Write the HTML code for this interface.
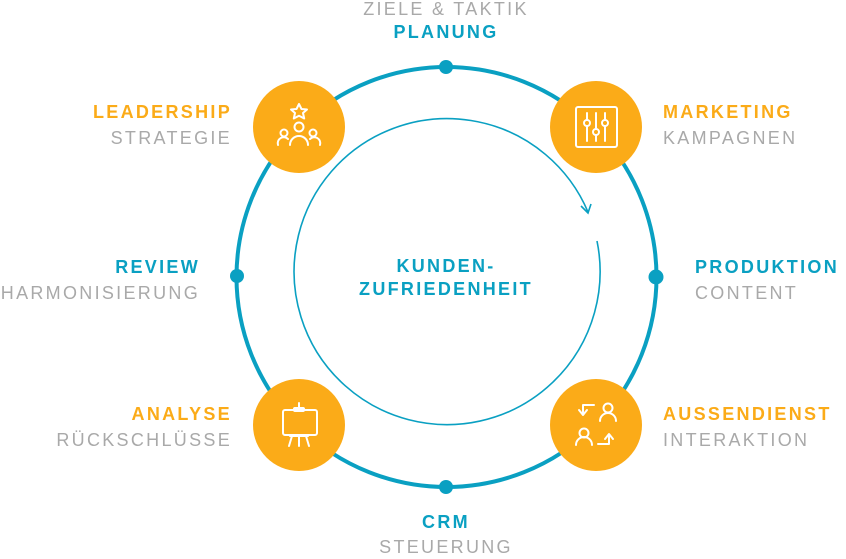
<!DOCTYPE html>
<html><head><meta charset="utf-8"><style>
body{margin:0;width:846px;height:554px;background:#fff;overflow:hidden;font-family:"Liberation Sans",sans-serif}
</style></head><body>
<svg width="846" height="554" viewBox="0 0 846 554" xmlns="http://www.w3.org/2000/svg" font-family="Liberation Sans, sans-serif" font-size="18" letter-spacing="2.3">
<circle cx="446.5" cy="277" r="210" fill="none" stroke="#0aa0c2" stroke-width="4"/>
<path d="M597 241 A153 153 0 1 1 588 212" fill="none" stroke="#0aa0c2" stroke-width="1.6"/>
<path d="M581 206 L588 213 L591 204" fill="none" stroke="#0aa0c2" stroke-width="1.6"/>
<g fill="#0aa0c2"><circle cx="446" cy="67" r="7"/><circle cx="656" cy="277" r="7.5"/><circle cx="237" cy="276" r="7"/><circle cx="446" cy="487" r="7"/></g>
<g fill="#fbab18"><circle cx="299" cy="127" r="46"/><circle cx="596" cy="127" r="46"/><circle cx="299" cy="425" r="46"/><circle cx="596" cy="425" r="46"/></g>
<g fill="none" stroke="#fff" stroke-width="2" stroke-linecap="round" stroke-linejoin="round">
<path d="M299 104 l2.5 5 5.5 .5 -4 3.5 1.2 5.5 -5.2 -2.8 -5.2 2.8 1.2 -5.5 -4 -3.5 5.5 -.5z"/>
<circle cx="299" cy="127" r="4.5"/><path d="M290 145 a9 9 0 0 1 18 0"/>
<circle cx="284" cy="133" r="3.5"/><path d="M278 145 a6 6 0 0 1 10 -6"/>
<circle cx="313" cy="133" r="3.5"/><path d="M320 145 a6 6 0 0 0 -10 -6"/>
<rect x="576" y="107" width="41" height="40" rx="2"/>
<path d="M587 113v28M596 113v28M605 113v28"/>
<circle cx="587" cy="123" r="3" fill="#fbab18"/><circle cx="596" cy="132" r="3" fill="#fbab18"/><circle cx="605" cy="123" r="3" fill="#fbab18"/>
<path d="M299 403v5"/><rect x="294" y="408" width="10" height="3" rx="1"/>
<rect x="283" y="410" width="34" height="25" rx="2"/>
<path d="M290 436h18M292 436l-3 10M306 436l3 10M299 436v10"/>
<path d="M594 405h-11v9M579 410l4 5 4 -5"/>
<circle cx="608" cy="408" r="4.5"/><path d="M600 421a8 8 0 0 1 16 0"/>
<circle cx="584" cy="433" r="4.5"/><path d="M576 445a8 8 0 0 1 16 0"/>
<path d="M598 444h11v-9M605 439l4 -5 4 5"/>
</g>
<g font-weight="bold" fill="#0aa0c2">
<text x="446" y="38" text-anchor="middle">PLANUNG</text>
<text x="200" y="273" text-anchor="end">REVIEW</text>
<text x="695" y="273">PRODUKTION</text>
<text x="446" y="528" text-anchor="middle">CRM</text>
<text x="446" y="272" text-anchor="middle">KUNDEN-</text>
<text x="446" y="295" text-anchor="middle">ZUFRIEDENHEIT</text>
</g>
<g font-weight="bold" fill="#fbab18">
<text x="232" y="118" text-anchor="end">LEADERSHIP</text>
<text x="663" y="118">MARKETING</text>
<text x="232" y="420" text-anchor="end">ANALYSE</text>
<text x="663" y="420">AUSSENDIENST</text>
</g>
<g fill="#a9a9a9">
<text x="446" y="15" text-anchor="middle">ZIELE &amp; TAKTIK</text>
<text x="232" y="144" text-anchor="end">STRATEGIE</text>
<text x="663" y="144">KAMPAGNEN</text>
<text x="200" y="299" text-anchor="end">HARMONISIERUNG</text>
<text x="695" y="299">CONTENT</text>
<text x="232" y="446" text-anchor="end">RÜCKSCHLÜSSE</text>
<text x="663" y="446">INTERAKTION</text>
<text x="446" y="553" text-anchor="middle">STEUERUNG</text>
</g>
</svg>
</body></html>
